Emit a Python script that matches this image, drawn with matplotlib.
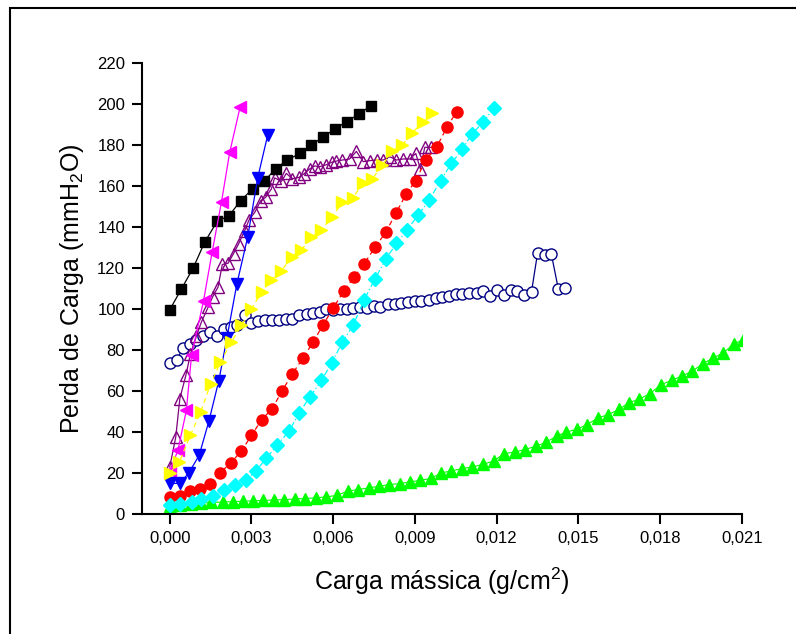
import matplotlib
matplotlib.use("Agg")
import matplotlib.pyplot as plt
from matplotlib.patches import Rectangle
from matplotlib.ticker import FuncFormatter, MultipleLocator

plt.rcParams["font.family"] = ["Liberation Sans", "DejaVu Sans"]
plt.rcParams["mathtext.default"] = "regular"

# black squares
sq_x = [0, .00043, .00086, .00128, .00174, .00218, .0026, .00304, .00346, .00389,
        .00432, .00477, .0052, .00563, .00606, .00649, .00694, .00737]
sq_y = [99.6, 109.8, 120, 132.5, 142.7, 145.5, 152.8, 158.5, 162.2, 168.4,
        172.6, 175.8, 179.9, 183.8, 187.7, 191.3, 195, 199]

# magenta left triangles
lt_x = [0, .0003, .00061, .0008, .00124, .00156, .0019, .0022, .00258]
lt_y = [21, 31.1, 50.6, 77.4, 104, 128, 152.3, 176.3, 198.3]

# blue down triangles
dt_x = [0, .00037, .00071, .00108, .00144, .0018, .0021, .00246, .00286, .00323, .0036]
dt_y = [15, 15, 20.3, 28.7, 45.5, 65, 86, 112, 135, 164, 185]

# yellow right triangles
rt_x = [0, .00035, .00076, .00114, .0015, .00186, .00226, .00263, .003, .00337,
        .00373, .0041, .00447, .00483, .0052, .00557, .00594, .00634, .00671, .0071,
        .00744, .0078, .00817, .00854, .00891, .00928, .00964]
rt_y = [20, 25.3, 38.6, 50, 63.5, 74, 83.9, 92, 100.1, 108.2,
        114.2, 118.6, 125.3, 128.8, 135, 138.6, 144.7, 152, 154, 161.5,
        163.5, 170, 177, 180, 186, 191, 195.5]

# red circles
rc_x = [0, .00037, .00073, .0011, .00147, .00186, .00224, .00263, .003, .00337,
        .00376, .00412, .0045, .0049, .00526, .00563, .006, .00639, .00676, .00712,
        .00753, .00793, .0083, .00867, .00903, .0094, .0098, .01017, .01053]
rc_y = [8.4, 8.8, 11.2, 12.5, 14.6, 20.3, 25, 30.8, 38.4, 46,
        51.4, 60, 68.4, 76.3, 83.8, 92.3, 100.5, 108.7, 115.5, 121.7,
        130, 137.4, 146.7, 155.8, 162.6, 172.8, 179, 188.5, 196.2]

# cyan diamonds
di_x = [0, .00037, .0008, .00116, .00159, .002, .00239, .00279, .00316, .00355,
        .00394, .00438, .00475, .00514, .00557, .00594, .00634, .00673, .00713, .00753,
        .00793, .00832, .00871, .00912, .00952, .00994, .01034, .01074, .01111, .0115,
        .0119]
di_y = [4.7, 5.2, 6, 7.2, 8.8, 11.7, 14.1, 16.5, 21, 27.4,
        33.6, 40.5, 49.3, 57.1, 65.2, 73.6, 83.9, 92, 104.3, 114.6,
        124.3, 132, 138.4, 145.9, 153, 162.5, 171, 178, 185.5, 191,
        198]

# green up triangles
ut_x = [0, .00039, .00078, .00116, .00153, .00196, .00232, .00269, .00306, .00342,
        .00382, .00419, .00459, .00496, .00536, .00575, .00614, .00655, .00691, .0073,
        .00768, .00805, .00844, .00881, .0092, .00958, .00997, .01034, .01073, .01111,
        .0115, .01189, .01227, .01267, .01303, .01344, .0138, .0142, .01454, .01495,
        .01532, .01572, .01609, .0165, .01686, .01723, .01762, .01803, .01842, .01879,
        .01917, .01956, .01994, .02031, .02071, .02104]
ut_y = [4.2, 4.5, 5.0, 5.5, 5.7, 5.9, 6.1, 6.3, 6.5, 6.7,
        6.9, 7.1, 7.4, 7.6, 8.0, 8.4, 9.2, 11.3, 12, 12.8,
        13.6, 14.4, 14.9, 15.7, 16.5, 17.4, 20.1, 21.1, 22.2, 23,
        24.3, 25.9, 29.5, 30.3, 31.5, 33.1, 35, 38, 40, 41.4,
        43.7, 46.9, 48.5, 51.1, 54.4, 56, 58.7, 63.1, 65.2, 67.3,
        69.6, 73.3, 76.1, 78.5, 83, 85]

# purple open triangles
ot_x = [0, .00022, .00037, .00059, .00076, .00098, .00116, .00141, .00157, .00177,
        .00193, .00214, .00234, .00253, .00275, .00291, .00312, .00334, .00352, .00373,
        .00385, .0041, .00428, .0045, .00475, .00492, .00514, .00532, .00551, .00573,
        .00594, .00612, .00634, .0066, .00685, .0071, .00734, .00759, .00783, .00808,
        .00832, .00856, .00881, .00903, .0092, .00936, .0096]
ot_y = [23, 37.5, 56.3, 67.6, 78.2, 86.8, 93.6, 100.9, 105.8, 110.6,
        121.7, 122.3, 127, 131.8, 138.2, 143.4, 147.1, 152.8, 154.4, 158.5,
        163.9, 162.2, 166.1, 163.4, 164.2, 165.8, 168.3, 169.7, 169.4, 170.2,
        171.5, 172.1, 172.6, 173.1, 176.8, 171.8, 172.3, 172.6, 172.6, 174.2,
        172.6, 173.1, 173.1, 175.8, 168.2, 178.8, 178.8]

# navy open circles
oc_x = [0, .00025, .00049, .00073, .00095, .00122, .00147, .00174, .00198, .00223,
        .00247, .00275, .003, .00324, .00349, .00377, .00401, .00426, .0045, .00475,
        .00502, .00526, .00551, .00575, .006, .00624, .00649, .00673, .007, .00724,
        .00749, .00773, .00801, .00826, .0085, .00875, .00899, .00924, .00951, .00977,
        .01001, .01025, .0105, .01074, .01099, .01126, .0115, .01177, .01202, .01226,
        .01251, .01275, .013, .01328, .0135, .01377, .01401, .01426, .0145]
oc_y = [73.8, 75, 81.1, 83.1, 84.7, 86.6, 88.7, 86.6, 90.4, 91.2,
        92.3, 97.2, 93.1, 94.1, 94.4, 94.8, 94.8, 95.3, 95.3, 97.3,
        97.7, 98, 98.5, 99.8, 99.6, 100.1, 100.1, 100.6, 100.9, 100.6,
        101.7, 100.9, 102.6, 102.6, 103, 103.3, 103.8, 103.8, 104.2, 105.5,
        105.8, 106.3, 107.1, 107.4, 107.7, 107.7, 109, 106.1, 109.4, 106.6,
        109.4, 109, 106.6, 108.5, 127.2, 126.1, 126.6, 109.9, 110.3]

fig = plt.figure(figsize=(7.96, 6.34), dpi=100)
ax = fig.add_axes([0.178, 0.189, 0.754, 0.712])

ax.plot(ut_x, ut_y, color="#00ff00", lw=0.8, marker="^", ms=8, mec="#00ff00", zorder=2)
ax.plot(oc_x, oc_y, color="#000080", lw=0.9, marker="o", ms=8, mfc="white",
        mec="#000080", mew=1.0, zorder=3)
ax.plot(ot_x, ot_y, color="#800080", lw=0.9, marker="^", ms=9, mfc="none",
        mec="#800080", mew=1.0, zorder=4)
ax.plot(sq_x, sq_y, color="black", lw=0.9, marker="s", ms=7, zorder=5)
ax.plot(rc_x, rc_y, color="#ff0000", lw=0.9, ls=(0, (4, 3)), marker="o", ms=8, zorder=5)
ax.plot(di_x, di_y, color="#00ffff", lw=0.9, ls=(0, (5, 2, 1, 2)), marker="D", ms=7, zorder=5)
ax.plot(lt_x, lt_y, color="#ff00ff", lw=0.9, marker="<", ms=8, zorder=6)
ax.plot(dt_x, dt_y, color="#0000ff", lw=0.9, marker="v", ms=8, zorder=6)
ax.plot(rt_x, rt_y, color="#ffff00", lw=0.9, ls=(0, (4, 3)), marker=">", ms=8, zorder=7)

ax.set_xlim(-0.00103, 0.021)
ax.set_ylim(0, 220)
ax.xaxis.set_major_locator(MultipleLocator(0.003))
ax.yaxis.set_major_locator(MultipleLocator(20))
ax.xaxis.set_major_formatter(FuncFormatter(lambda v, p: f"{v:.3f}".replace(".", ",").replace("-", "")))

for side in ["top", "right"]:
    ax.spines[side].set_visible(False)
for side in ["left", "bottom"]:
    ax.spines[side].set_linewidth(1.5)
ax.tick_params(direction="out", length=7, width=1.5, labelsize=12, pad=5)

ax.set_xlabel("Carga mássica (g/cm$^2$)", fontsize=18, labelpad=14)
ax.set_ylabel("Perda de Carga (mmH$_2$O)", fontsize=18, labelpad=8)

fig.patches.append(Rectangle((10 / 796, -0.1), 1.1, 1.1 - 8 / 634, transform=fig.transFigure,
                             fill=False, edgecolor="black", lw=1.5))

fig.savefig("out.png", dpi=100)
